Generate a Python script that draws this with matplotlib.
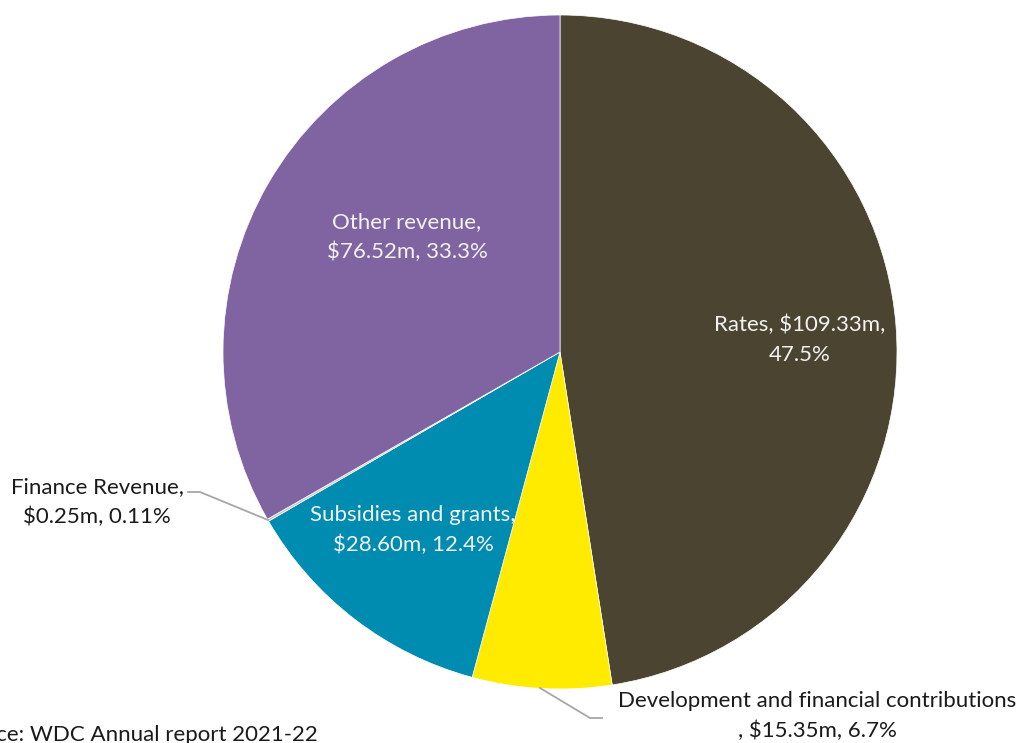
import matplotlib
matplotlib.use("Agg")
import matplotlib.pyplot as plt

plt.rcParams['font.family'] = ['Lato', 'DejaVu Sans']

# revenue sources, WDC 2021-22, in $m (clockwise from 12 o'clock)
sources = ["Rates", "Development and financial contributions", "Subsidies and grants",
           "Finance Revenue", "Other revenue"]
amounts = [109.33, 15.35, 28.60, 0.25, 76.52]
pct_digits = [1, 1, 1, 2, 1]
colors = ["#4A4430", "#FFEB00", "#008BB1", "#C8C8C8", "#8064A2"]

W, H = 1019, 743
CX, CY, R = 560, 352, 337   # pie centre / radius in pixels


def px(x, y):
    # pixel position -> data coords (pie radius = 1)
    return (x - CX) / R, (CY - y) / R


fig = plt.figure(figsize=(W / 100, H / 100), dpi=100)
ax = fig.add_axes([0, 0, 1, 1])

wedges, _ = ax.pie(amounts, colors=colors, startangle=90, counterclock=False,
                   radius=1, wedgeprops=dict(edgecolor="white", linewidth=0.5))

ax.set_xlim(px(0, 0)[0], px(W, 0)[0])
ax.set_ylim(px(0, H)[1], px(0, 0)[1])
ax.set_aspect("equal")
ax.axis("off")

total = sum(amounts)
labels = []
for name, v, d in zip(sources, amounts, pct_digits):
    labels.append((name, f"${v:.2f}m", f"{100 * v / total:.{d}f}%"))

txt_rates = f"{labels[0][0]}, {labels[0][1]},\n{labels[0][2]}"
txt_dev = f"{labels[1][0]}\n, {labels[1][1]}, {labels[1][2]}"
txt_sub = f"{labels[2][0]},\n{labels[2][1]}, {labels[2][2]}"
txt_fin = f"{labels[3][0]},\n{labels[3][1]}, {labels[3][2]}"
txt_oth = f"{labels[4][0]},\n{labels[4][1]}, {labels[4][2]}"

fs = 16
ls = 1.6
light = "#F2F2F2"
dark = "#1A1A1A"
ax.text(*px(800, 340), txt_rates, color=light, fontsize=fs, ha="center", va="center", linespacing=ls)
ax.text(*px(407, 237), txt_oth, color=light, fontsize=fs, ha="center", va="center", linespacing=ls)
ax.text(*px(413, 530), txt_sub, color=light, fontsize=fs, ha="center", va="center", linespacing=ls)
ax.text(*px(97, 502), txt_fin, color=dark, fontsize=fs, ha="center", va="center", linespacing=ls)
ax.text(*px(817, 716), txt_dev, color=dark, fontsize=fs, ha="center", va="center", linespacing=ls)

# leader lines for the two outside labels
lead = "#A6A6A6"
fin_pts = [px(268, 520), px(200, 492), px(188, 492)]
ax.plot([p[0] for p in fin_pts], [p[1] for p in fin_pts], color=lead, lw=1.3, clip_on=False)
dev_pts = [px(540, 688), px(590, 718), px(602, 718)]
ax.plot([p[0] for p in dev_pts], [p[1] for p in dev_pts], color=lead, lw=1.3, clip_on=False)

fig.text(318 / W, 1 - 735 / H, "Source: WDC Annual report 2021-22", fontsize=fs,
         color=dark, ha="right", va="center")

fig.savefig("out.png", dpi=100, facecolor="white")
